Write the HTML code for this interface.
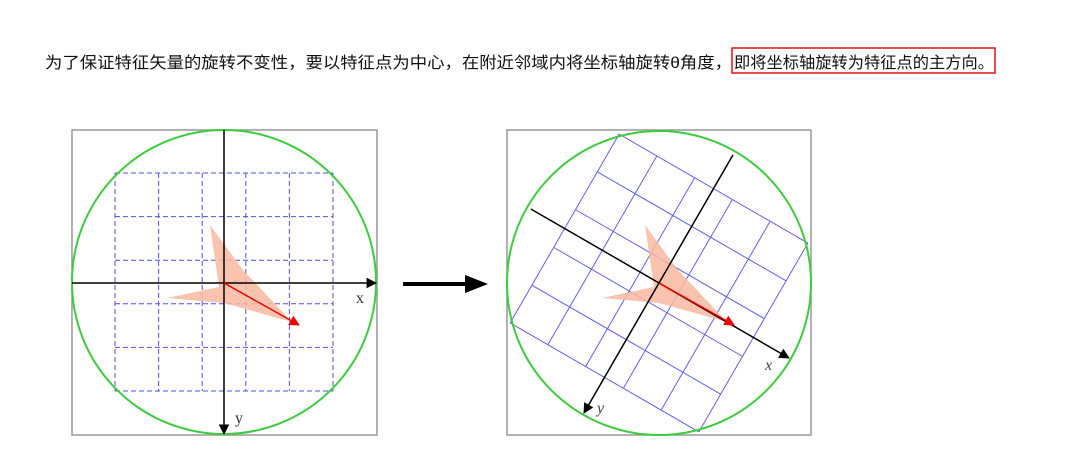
<!DOCTYPE html>
<html><head><meta charset="utf-8"><style>
html,body{margin:0;padding:0;background:#fff;}
svg{display:block;}
.t{font-family:"Liberation Sans","Noto Sans CJK SC",sans-serif;}
.s{font-family:"Liberation Serif",serif;}
</style></head><body>
<svg width="1079" height="467" viewBox="0 0 1079 467">
  <defs>
    <radialGradient id="bl" cx="50%" cy="0%" r="60%"><stop offset="0" stop-color="#4a3cf0"/><stop offset="1" stop-color="#fff" stop-opacity="0"/></radialGradient>
    <marker id="ah" viewBox="0 0 10 10" refX="9" refY="5" markerWidth="9" markerHeight="7" orient="auto"><path d="M0,0 L10,5 L0,10 z" fill="#000"/></marker>
    <marker id="ahr" viewBox="0 0 10 10" refX="9" refY="5" markerWidth="9" markerHeight="7" orient="auto"><path d="M0,0 L10,5 L0,10 z" fill="#e00"/></marker>
  </defs>
  <ellipse cx="230" cy="-4" rx="45" ry="8" fill="url(#bl)"/>
  <text class="t" x="45" y="68" font-size="16" fill="#111" textLength="687" lengthAdjust="spacingAndGlyphs">为了保证特征矢量的旋转不变性，要以特征点为中心，在附近邻域内将坐标轴旋转θ角度，</text>
  <text class="t" x="734" y="68" font-size="16" fill="#111" textLength="260" lengthAdjust="spacingAndGlyphs">即将坐标轴旋转为特征点的主方向。</text>
  <rect x="732" y="48" width="263" height="25" fill="none" stroke="#e01010" stroke-width="1.5"/>

  <g id="left">
    <rect x="72" y="130" width="305" height="305" fill="#fff" stroke="#999" stroke-width="1.5"/>
    <g id="lgrid" stroke="#5050e0" stroke-width="1" stroke-dasharray="5,3" fill="none"></g>
    <circle cx="224" cy="282" r="152" fill="none" stroke="#3ccc3c" stroke-width="2"/>
    <polygon points="210,225 243,270 292,322 224,303 167,298 219,287" fill="#f8b8a0" opacity="0.85"/>
    <line x1="72" y1="283" x2="376" y2="283" stroke="#000" stroke-width="1.5" marker-end="url(#ah)"/>
    <line x1="224" y1="130" x2="224" y2="434" stroke="#000" stroke-width="1.5" marker-end="url(#ah)"/>
    <line x1="224" y1="283" x2="299" y2="325" stroke="#e00" stroke-width="1.5" marker-end="url(#ahr)"/>
    <text class="s" x="356" y="303" font-size="16" fill="#333">x</text>
    <text class="s" x="235" y="423" font-size="16" fill="#333">y</text>
  </g>

  <g>
    <line x1="403" y1="284" x2="470" y2="284" stroke="#000" stroke-width="4"/>
    <polygon points="465,275 488,284 465,293" fill="#000"/>
  </g>

  <g id="right">
    <rect x="507" y="130" width="304" height="305" fill="#fff" stroke="#999" stroke-width="1.5"/>
    <g id="rgrid" stroke="#6060ee" stroke-width="1" fill="none" transform="rotate(30 659 283)"></g>
    <circle cx="659" cy="283" r="152" fill="none" stroke="#3ccc3c" stroke-width="2"/>
    <polygon points="645,225 678,270 727,322 659,303 602,298 654,287" fill="#f8b8a0" opacity="0.85"/>
    <g transform="rotate(30 659 283)" stroke="#000" stroke-width="1.5">
      <line x1="511" y1="283" x2="809" y2="283" marker-end="url(#ah)"/>
      <line x1="659" y1="135" x2="659" y2="433" marker-end="url(#ah)"/>
    </g>
    <line x1="659" y1="283" x2="734" y2="325" stroke="#e00" stroke-width="1.5" marker-end="url(#ahr)"/>
    <text class="s" x="765" y="370" font-size="16" font-style="italic" fill="#444">x</text>
    <text class="s" x="597" y="413" font-size="16" font-style="italic" fill="#444">y</text>
  </g>
</svg>
<script>
const cells=5, size=218;
function grid(id,cx,cy){
  const g=document.getElementById(id);
  const x0=cx-size/2,y0=cy-size/2;
  for(let i=0;i<=cells;i++){
    const p=i*size/cells;
    const v=document.createElementNS('http://www.w3.org/2000/svg','line');
    
    
    v.setAttribute('x1',x0+p);v.setAttribute('x2',x0+p);v.setAttribute('y1',y0);v.setAttribute('y2',y0+size);
    g.appendChild(v);
    const h=document.createElementNS('http://www.w3.org/2000/svg','line');
    
    
    h.setAttribute('y1',y0+p);h.setAttribute('y2',y0+p);h.setAttribute('x1',x0);h.setAttribute('x2',x0+size);
    g.appendChild(h);
  }
}
grid('lgrid',224,282);
grid('rgrid',659,283);
</script>
</body></html>
